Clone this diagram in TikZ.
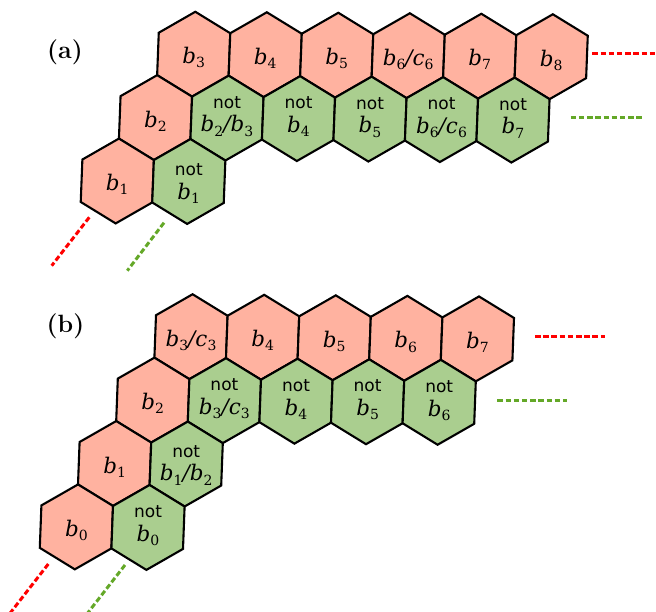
\documentclass[tikz,border=0pt]{standalone}
\usepackage{fontspec}
\newfontfamily\dvserif{DejaVu Serif}
\newfontfamily\dvsans{DejaVu Sans}
\definecolor{salmon}{RGB}{255,178,160}
\definecolor{leaf}{RGB}{170,206,143}
\definecolor{dred}{RGB}{255,0,0}
\definecolor{dgreen}{RGB}{100,168,40}
\newcommand\bsym[2]{{\dvserif\itshape #1}\raisebox{-4.2pt}{\dvserif\fontsize{14}{14}\selectfont #2}}
\newcommand\sla{{\dvserif\itshape /}}
\tikzset{
  hexcell/.style={draw=black, line width=2.1pt, line join=miter},
  redcell/.style={hexcell, fill=salmon},
  greencell/.style={hexcell, fill=leaf},
  lbl/.style={font=\fontsize{21.5}{21.5}\selectfont, inner sep=0pt, anchor=base},
  notlbl/.style={font=\dvsans\fontsize{17}{17}\selectfont, inner sep=0pt, anchor=base},
  reddash/.style={draw=dred, line width=3pt, dash pattern=on 5.5pt off 2.7pt},
  greendash/.style={draw=dgreen, line width=3pt, dash pattern=on 5.5pt off 2.7pt},
  panellbl/.style={font=\bfseries\fontsize{25}{25}\selectfont, inner sep=0pt}
}
\newcommand\hexpath[3]{\path[#1] (#2+2/3,#3+1/3) -- (#2+1/3,#3+2/3) -- (#2-1/3,#3+1/3) -- (#2-2/3,#3-1/3) -- (#2-1/3,#3-2/3) -- (#2+1/3,#3-1/3) -- cycle;}
\newcommand\rcell[4]{\hexpath{redcell}{#2}{#3}\node[lbl, yshift=-9.5pt] (#1) at (#2,#3) {#4};}
\newcommand\gcell[5]{\hexpath{greencell}{#2}{#3}\node[notlbl, yshift={10pt-#5}] (#1n) at (#2,#3) {not};\node[lbl, yshift={-13.8pt-#5}] (#1) at (#2,#3) {#4};}
\begin{document}
\begin{tikzpicture}[x=1pt,y=-1pt]
\useasboundingbox (0,0) rectangle (656,612);
% ---------- panel (a)
\begin{scope}[shift={(193.7,54.2)}, x={(71.5pt,-0.5pt)}, y={(-38.2pt,-63.4pt)}]
  \rcell{a3}{0}{0}{\bsym{b}{3}}
  \rcell{a4}{1}{0}{\bsym{b}{4}}
  \rcell{a5}{2}{0}{\bsym{b}{5}}
  \rcell{a6}{3}{0}{\bsym{b}{6}\sla\bsym{c}{6}}
  \rcell{a7}{4}{0}{\bsym{b}{7}}
  \rcell{a8}{5}{0}{\bsym{b}{8}}
  \rcell{a2}{0}{1}{\bsym{b}{2}}
  \rcell{a1}{0}{2}{\bsym{b}{1}}
  \gcell{na23}{1}{1}{\bsym{b}{2}\sla\bsym{b}{3}}{0pt}
  \gcell{na4}{2}{1}{\bsym{b}{4}}{0pt}
  \gcell{na5}{3}{1}{\bsym{b}{5}}{0pt}
  \gcell{na6}{4}{1}{\bsym{b}{6}\sla\bsym{c}{6}}{0pt}
  \gcell{na7}{5}{1}{\bsym{b}{7}}{0pt}
  \gcell{na1}{1}{2}{\bsym{b}{1}}{4.5pt}
\end{scope}
\node[panellbl] (pa) at (65,52) {(a)};
\coordinate (ar0) at (592.3,54);   \coordinate (ar1) at (655,54);
\coordinate (ag0) at (570.7,117.3);\coordinate (ag1) at (641.7,117.3);
\coordinate (br0) at (89.3,217.3); \coordinate (br1) at (51.7,265.7);
\coordinate (bg0) at (164,222.7);  \coordinate (bg1) at (127.3,270.7);
\draw[reddash] (ar0) -- (ar1);
\draw[greendash] (ag0) -- (ag1);
\draw[reddash] (br0) -- (br1);
\draw[greendash] (bg0) -- (bg1);
% ---------- panel (b)
\begin{scope}[shift={(191,336.7)}, x={(71.6pt,-0.55pt)}, y={(-38.2pt,-63.4pt)}]
  \rcell{b3}{0}{0}{\bsym{b}{3}\sla\bsym{c}{3}}
  \rcell{b4}{1}{0}{\bsym{b}{4}}
  \rcell{b5}{2}{0}{\bsym{b}{5}}
  \rcell{b6}{3}{0}{\bsym{b}{6}}
  \rcell{b7}{4}{0}{\bsym{b}{7}}
  \rcell{b2}{0}{1}{\bsym{b}{2}}
  \rcell{b1}{0}{2}{\bsym{b}{1}}
  \rcell{b0}{0}{3}{\bsym{b}{0}}
  \gcell{nb3}{1}{1}{\bsym{b}{3}\sla\bsym{c}{3}}{0pt}
  \gcell{nb4}{2}{1}{\bsym{b}{4}}{0pt}
  \gcell{nb5}{3}{1}{\bsym{b}{5}}{0pt}
  \gcell{nb6}{4}{1}{\bsym{b}{6}}{0pt}
  \gcell{nb12}{1}{2}{\bsym{b}{1}\sla\bsym{b}{2}}{3pt}
  \gcell{nb0}{1}{3}{\bsym{b}{0}}{0pt}
\end{scope}
\node[panellbl] (pb) at (65.5,326.5) {(b)};
\coordinate (cr0) at (535,336.7);  \coordinate (cr1) at (605,336.7);
\coordinate (cg0) at (497.3,400);  \coordinate (cg1) at (567.3,400);
\coordinate (dr0) at (48.3,564);   \coordinate (dr1) at (8.5,615.2);
\coordinate (dg0) at (125,565);    \coordinate (dg1) at (85.2,616.2);
\draw[reddash] (cr0) -- (cr1);
\draw[greendash] (cg0) -- (cg1);
\draw[reddash] (dr0) -- (dr1);
\draw[greendash] (dg0) -- (dg1);
\end{tikzpicture}
\end{document}
